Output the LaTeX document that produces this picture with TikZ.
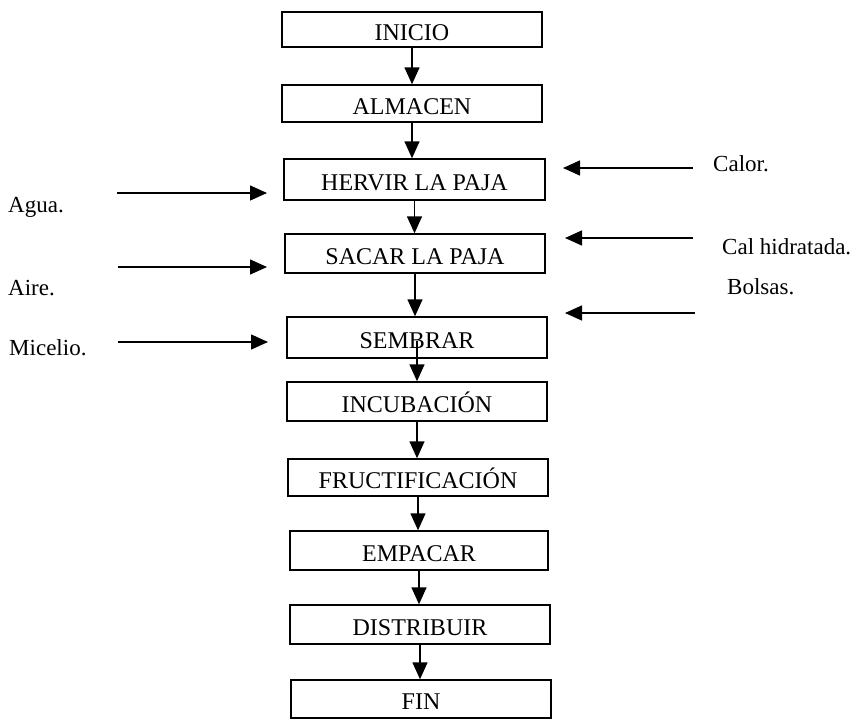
\documentclass[tikz,border=0pt]{standalone}
\usepackage{fontspec}
\setmainfont{Liberation Serif}
\usetikzlibrary{arrows.meta,calc}
\begin{document}
\begin{tikzpicture}[x=1pt,y=-1pt,
  proc/.style={draw, line width=1.4pt, inner sep=0pt, minimum width=260pt,
    font=\fontsize{24}{24}\selectfont, text height=21pt, text depth=0pt},
  flow/.style={line width=1.4pt, -{Triangle[length=17pt,width=15pt]}},
  side/.style={font=\fontsize{23}{23}\selectfont, anchor=base west, inner sep=0pt}]
\useasboundingbox (0,0) rectangle (852,720);
% process boxes
\node[proc, minimum height=35pt] (ini) at (412,29.5) {INICIO};
\node[proc, minimum height=37pt] (alm) at (412,103.5) {ALMACEN};
\node[proc, minimum height=41pt, minimum width=261pt] (her) at (414.5,179.5) {HERVIR LA PAJA};
\node[proc, minimum height=39pt] (sac) at (415,253.5) {SACAR LA PAJA};
\node[proc, minimum height=41pt] (sem) at (417,337.5) {SEMBRAR};
\node[proc, minimum height=39pt] (inc) at (417,401.5) {INCUBACIÓN};
\node[proc, minimum height=37pt] (fru) at (418,477.5) {FRUCTIFICACIÓN};
\node[proc, minimum height=39pt, minimum width=258pt] (emp) at (419,550.5) {EMPACAR};
\node[proc, minimum height=39pt] (dis) at (420,624.5) {DISTRIBUIR};
\node[proc, minimum height=38pt] (fin) at (421,699) {FIN};
% main flow
\draw[flow] (ini.south) -- (ini.south |- alm.north);
\draw[flow] (alm.south) -- (alm.south |- her.north);
\draw[flow] (her.south) -- (her.south |- sac.north);
\draw[flow] (sac.south) -- (sac.south |- sem.north);
\draw[flow] ($(sem.center)+(0,3)$) -- (sem.center |- inc.north);
\draw[flow] (inc.south) -- (inc.south |- fru.north);
\draw[flow] (fru.south) -- (fru.south |- emp.north);
\draw[flow] (emp.south) -- (emp.south |- dis.north);
\draw[flow] (dis.south) -- (dis.south |- fin.north);
% left inputs
\node[side] (agua) at (8,212) {Agua.};
\node[side] (aire) at (8,295) {Aire.};
\node[side] (mic) at (9,355) {Micelio.};
\coordinate (l1s) at (117,193); \coordinate (l1e) at (267,193);
\coordinate (l2s) at (118,267); \coordinate (l2e) at (267,267);
\coordinate (l3s) at (118,342); \coordinate (l3e) at (268,342);
\draw[flow] (l1s) -- (l1e);
\draw[flow] (l2s) -- (l2e);
\draw[flow] (l3s) -- (l3e);
% right inputs
\node[side] (cal) at (713,171) {Calor.};
\node[side] (calh) at (722,254) {Cal hidratada.};
\node[side] (bol) at (727,294) {Bolsas.};
\coordinate (r1s) at (693,168); \coordinate (r1e) at (563,168);
\coordinate (r2s) at (693,238); \coordinate (r2e) at (565,238);
\coordinate (r3s) at (695,313); \coordinate (r3e) at (565,313);
\draw[flow] (r1s) -- (r1e);
\draw[flow] (r2s) -- (r2e);
\draw[flow] (r3s) -- (r3e);
\end{tikzpicture}
\end{document}
